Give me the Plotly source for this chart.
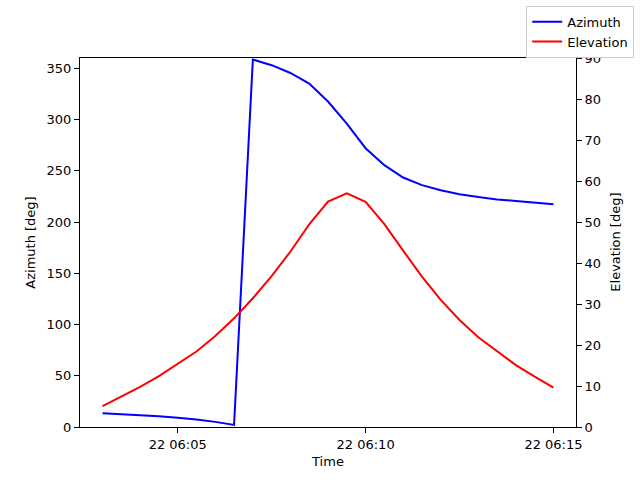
"""
Sun track over a short pass: azimuth (left axis) and elevation (right axis).
"""

import pandas as pd
import plotly.graph_objects as go

# samples every 30 s, 06:03:00 .. 06:15:00
times = pd.date_range("2024-06-22 06:03:00", "2024-06-22 06:15:00", freq="30s")

azimuth = [
    13.4, 12.6, 11.6, 10.4, 9.0, 7.4, 5.0, 2.0,
    358.5, 353.0, 345.4, 335.0, 317.5, 296.0, 272.0, 255.4,
    243.4, 236.0, 231.0, 227.0, 224.5, 222.0, 220.6, 219.0, 217.4,
]
elevation = [
    5.1, 7.4, 9.8, 12.4, 15.4, 18.4, 22.2, 26.5,
    31.4, 36.8, 42.8, 49.4, 55.0, 57.0, 54.9, 49.5,
    43.0, 36.7, 31.0, 26.1, 21.9, 18.4, 15.1, 12.3, 9.6,
]

tick_times = pd.to_datetime(["2024-06-22 06:05", "2024-06-22 06:10", "2024-06-22 06:15"])
x_range = [pd.Timestamp("2024-06-22 06:02:24"), pd.Timestamp("2024-06-22 06:15:36")]

FONT = dict(family="DejaVu Sans", size=13, color="black")

fig = go.Figure()
fig.add_trace(
    go.Scatter(x=times, y=azimuth, mode="lines", name="Azimuth",
               line=dict(color="#0000ff", width=2))
)
fig.add_trace(
    go.Scatter(x=times, y=elevation, mode="lines", name="Elevation",
               line=dict(color="#ff0000", width=2), yaxis="y2")
)

axis_common = dict(
    showgrid=False, zeroline=False, showline=True, linecolor="black", linewidth=1,
    ticks="outside", ticklen=5, tickcolor="black", tickfont=FONT,
)

fig.update_layout(
    width=640,
    height=480,
    margin=dict(l=80, r=64, t=58, b=53, autoexpand=False),
    paper_bgcolor="white",
    plot_bgcolor="white",
    font=FONT,
    showlegend=True,
    xaxis=dict(
        **axis_common,
        mirror=True,
        range=x_range,
        tickvals=tick_times,
        tickformat="%d %H:%M",
        title=dict(text="Time", font=FONT, standoff=6),
    ),
    yaxis=dict(
        **axis_common,
        range=[0, 360],
        tickvals=list(range(0, 351, 50)),
        title=dict(text="Azimuth [deg]", font=FONT, standoff=8),
    ),
    yaxis2=dict(
        **axis_common,
        overlaying="y",
        side="right",
        range=[0, 90],
        tickvals=list(range(0, 91, 10)),
    ),
    legend=dict(
        xref="container", yref="container",
        x=0.991, y=0.988, xanchor="right", yanchor="top",
        bgcolor="white", bordercolor="#cccccc", borderwidth=1,
        font=FONT, tracegroupgap=0,
    ),
)

# right axis title as an annotation: the overlaying axis title lands inside the plot otherwise
fig.add_annotation(
    text="Elevation [deg]", xref="paper", yref="paper", x=1.079, y=0.5,
    textangle=-90, showarrow=False, font=FONT, xanchor="center", yanchor="middle",
)

# page body has a default 8px margin; drop it so the figure sits at the window origin
fig.write_html(
    "out.html",
    config={"displayModeBar": False},
    post_script="document.body.style.margin = '0';",
)
